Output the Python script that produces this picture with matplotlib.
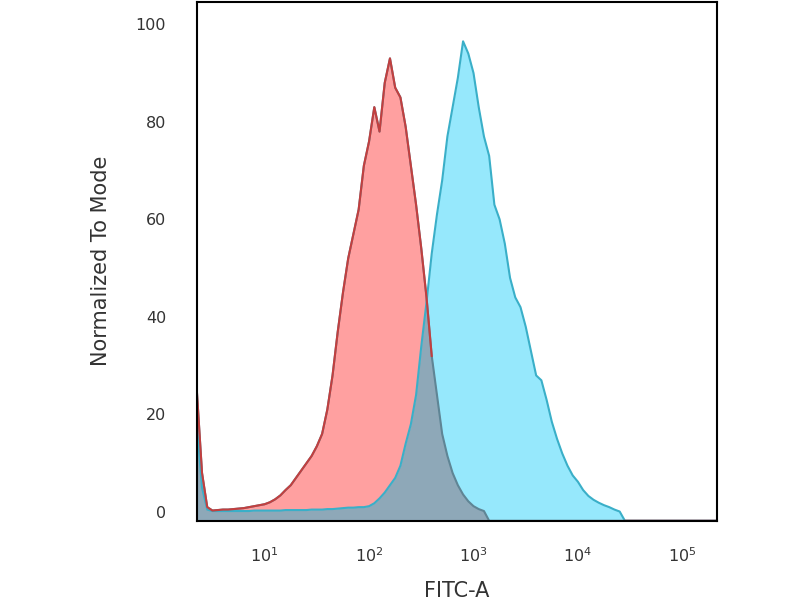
import numpy as np
import matplotlib
matplotlib.use("Agg")
import matplotlib.pyplot as plt

# channel positions (log10 of FITC-A)
log_pos = np.round(np.arange(0.35, 5.36, 0.05), 2)

# isotype control (red), one row per 0.5 decade starting at 0.35
isotype = [25, 8, 1, 0.3, 0.4, 0.5, 0.5, 0.6, 0.7, 0.8,
           1.0, 1.2, 1.4, 1.6, 2.0, 2.6, 3.4, 4.5, 5.5, 7,
           8.5, 10, 11.5, 13.5, 16, 21, 28, 37, 45, 52,
           57, 62, 71, 76, 83, 78, 88, 93, 87, 85,
           79, 71, 63, 54, 44, 32, 24, 16, 11.5, 8,
           5.5, 3.6, 2.2, 1.2, 0.6, 0.2, 0, 0, 0, 0] + [0] * 41

# antibody stained (cyan)
stained = [18, 5, 0.5, 0.2, 0.2, 0.2, 0.2, 0.2, 0.2, 0.2,
           0.2, 0.3, 0.3, 0.3, 0.3, 0.3, 0.3, 0.4, 0.4, 0.4,
           0.4, 0.4, 0.5, 0.5, 0.5, 0.6, 0.6, 0.7, 0.8, 0.9,
           0.9, 1.0, 1.0, 1.2, 1.8, 2.8, 4.0, 5.5, 7, 9.5,
           14, 18, 24, 34, 43, 53, 61, 68, 77, 83,
           89, 96.5, 94, 90, 83, 77, 73, 63, 60, 55,
           48, 44, 42, 38, 33, 28, 27, 23, 18.5, 15,
           12, 9.5, 7.5, 6.2, 4.5, 3.3, 2.5, 1.9, 1.4, 1.0,
           0.5, 0.1, 0, 0, 0, 0, 0, 0, 0, 0] + [0] * 11

base = -1.8
x = 10 ** log_pos
red = np.array(isotype, dtype=float)
cyan = np.array(stained, dtype=float)
# empty channels sit on the frame bottom
red = np.where(red > 0, red, base)
cyan = np.where(cyan > 0, cyan, base)
both = np.minimum(red, cyan)

fig = plt.figure(figsize=(8, 6), dpi=100)
ax = fig.add_axes([0.246, 0.132, 0.65, 0.865])

ax.fill_between(x, base, red, color="#ffa0a0", lw=0)
ax.fill_between(x, base, cyan, color="#96e8fc", lw=0)
ax.fill_between(x, base, both, color="#8ea8b8", lw=0)

# red outline turns grey where it sits under the cyan area
on_top = red >= cyan
on_top_wide = on_top | np.roll(on_top, 1) | np.roll(on_top, -1)
red_top = np.where(on_top, red, np.nan)
ax.plot(x, red, color="#5f8595", lw=1.5)
ax.plot(x, cyan, color="#3aafc8", lw=1.5)
ax.plot(x, np.where(on_top_wide & (red > 30) | on_top, red, np.nan),
        color="#c23f3f", lw=1.5)

ax.set_xscale("log")
ax.set_xlim(10 ** 0.35, 10 ** 5.33)
ax.set_ylim(base, 104.6)
ax.set_xticks([1e1, 1e2, 1e3, 1e4, 1e5])
ax.set_xticklabels([r"$\mathregular{10^{%d}}$" % k for k in range(1, 6)])
ax.xaxis.set_minor_locator(plt.NullLocator())
ax.set_yticks([0, 20, 40, 60, 80, 100])
ax.tick_params(axis="both", length=0, labelsize=11.5, colors="#333333")
ax.tick_params(axis="y", pad=22)
ax.tick_params(axis="x", pad=18)
for s in ax.spines.values():
    s.set_linewidth(1.5)
    s.set_color("black")

ax.set_ylabel("Normalized To Mode", fontsize=15, color="#333333", labelpad=18)
ax.set_xlabel("FITC-A", fontsize=15, color="#333333", labelpad=12)

fig.savefig("out.png", dpi=100)
